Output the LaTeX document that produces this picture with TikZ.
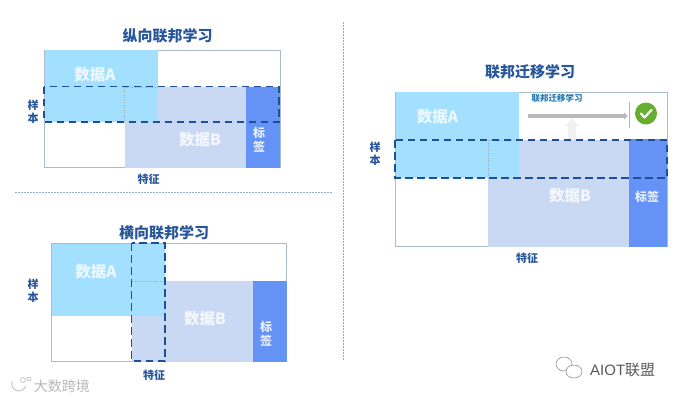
\documentclass[tikz,border=0pt]{standalone}
\usepackage{fontspec}
\usetikzlibrary{arrows.meta}
\setmainfont{Liberation Sans}
\newfontfamily\cjk{Noto Sans CJK SC}
\begin{document}
\begin{tikzpicture}[x=1pt,y=-1pt,
  outer/.style={draw=frameC,line width=1pt,fill=white},
  dataA/.style={fill=aC},
  dataB/.style={fill=bC},
  labelbox/.style={fill=lC},
  dash box/.style={draw=dashC,line width=1.9pt,dash pattern=on 7.5pt off 4.5pt},
  thin dot/.style={draw=gray!70,line width=.5pt,dotted},
  divider/.style={draw=divC,line width=.7pt,dash pattern=on 1.5pt off 1.5pt},
  title/.style={font=\cjk\bfseries\fontsize{15}{17}\selectfont,text=titleC,inner sep=0pt},
  axis/.style={font=\cjk\bfseries\fontsize{11}{13}\selectfont,text=titleC,inner sep=0pt,align=center},
  big/.style={font=\cjk\bfseries\fontsize{15.5}{17}\selectfont,text=white,text opacity=.8,inner sep=0pt},
  tag/.style={font=\cjk\bfseries\fontsize{12}{14.5}\selectfont,text=white,text opacity=.85,inner sep=0pt,align=center}]
\definecolor{frameC}{HTML}{A9BBCF}
\definecolor{aC}{HTML}{A3DFFE}
\definecolor{bC}{HTML}{C9D8F3}
\definecolor{lC}{HTML}{6492F5}
\definecolor{dashC}{HTML}{1F4E9B}
\definecolor{titleC}{HTML}{27569B}
\definecolor{divC}{HTML}{8FB0CC}
\definecolor{okC}{HTML}{66AE2E}
\useasboundingbox (0,0) rectangle (683,400);
\fill[white] (0,0) rectangle (683,400);
% dividers
\coordinate (hl) at (15,192); \coordinate (hr) at (332,192);
\coordinate (vt) at (343.5,22); \coordinate (vb) at (343.5,361);
\draw[divider] (hl) -- (hr);
\draw[divider] (vt) -- (vb);
% --- panel 1
\node[title] (t1) at (167.5,36) {纵向联邦学习};
\draw[outer] (44.5,50) rectangle (280,167.5);
\fill[dataB] (124.5,87) rectangle (246,167.5);
\fill[labelbox] (246,87) rectangle (280,167.5);
\fill[dataA] (44.5,50) rectangle (157.5,122);
\draw[thin dot] (124.5,87) -- (124.5,122);
\draw[thin dot] (124.5,87) -- (157.5,87);
\draw[dash box] (44,86.5) rectangle (279,122);
\node[big] (a1) at (95,74.5) {数据A};
\node[big] (b1) at (200,139.5) {数据B};
\node[tag] (c1) at (259,140) {标\\签};
\node[axis] (s1) at (33,112) {样\\本};
\node[axis] (f1) at (148.5,179) {特征};
% --- panel 2
\node[title] (t2) at (164,232.5) {横向联邦学习};
\draw[outer] (51.5,243.5) rectangle (286.5,361.5);
\fill[dataB] (132,281) rectangle (253,361.5);
\fill[labelbox] (253,281) rectangle (286.5,361.5);
\fill[dataA] (51.5,243.5) rectangle (165,316);
\draw[thin dot] (132,281) -- (165,281);
\draw[dash box] (131.5,243) rectangle (165,361);
\node[big] (a2) at (96,271.5) {数据A};
\node[big] (b2) at (205,319) {数据B};
\node[tag] (c2) at (266,334) {标\\签};
\node[axis] (s2) at (33,290.5) {样\\本};
\node[axis] (f2) at (154,375.5) {特征};
% --- panel 3
\node[title] (t3) at (530,71.5) {联邦迁移学习};
\draw[outer] (395.5,92) rectangle (667,246.5);
\fill[dataB] (488,140) rectangle (629,246.5);
\fill[labelbox] (629,139) rectangle (667,246.5);
\fill[dataA] (395.5,92) rectangle (519,177.5);
\draw[thin dot] (488.5,140) -- (488.5,177.5);
\draw[thin dot] (488.5,140) -- (519,140);
% transfer arrow
\coordinate (us) at (572,140); \coordinate (ue) at (572,118);
\draw[-{Latex[length=8pt,width=16pt]},line width=8pt,draw=black!6] (us) -- (ue);
\coordinate (ts) at (528,116); \coordinate (te) at (628,116);
\draw[-{Latex[length=4pt,width=8pt]},line width=3.5pt,draw=black!27] (ts) -- (te);
\coordinate (bt) at (629,102); \coordinate (bb) at (629,128);
\draw[black!30,line width=.8pt] (bt) -- (bb);
\node[circle,fill=okC,minimum size=22pt,inner sep=0pt] (ok) at (646,113.5) {};
\draw[white,line width=2.2pt,line cap=round,line join=round] ([shift={(-5,0)}]ok.center) -- ([shift={(-1.5,4)}]ok.center) -- ([shift={(5.5,-3.5)}]ok.center);
\node[font=\cjk\bfseries\fontsize{8.5}{10}\selectfont,text=titleC!80!cyan,inner sep=0pt] (tt) at (557,98.5) {联邦迁移学习};
\draw[dash box] (395,140) rectangle (667,178);
\node[big] (a3) at (437.5,117) {数据A};
\node[big] (b3) at (570,196) {数据B};
\node[font=\cjk\bfseries\fontsize{12}{14}\selectfont,text=white,text opacity=.85,inner sep=0pt] (c3) at (647,197) {标签};
\node[axis] (s3) at (375,154) {样\\本};
\node[axis] (f3) at (527,258) {特征};
% --- watermarks
\node[font=\cjk\fontsize{14}{16}\selectfont,text=black!28,inner sep=0pt] (wm) at (62,386) {大数跨境};
\draw[black!22,line width=1pt] (12,381) .. controls (10,392) and (22,394) .. (26,386);
\draw[black!22,line width=.8pt] (23,380) circle (2.5pt) (29,379) circle (2pt);
\node[font=\fontsize{15}{17}\selectfont,text=black!65,inner sep=0pt,anchor=west] (aiot) at (590,369.5) {AIOT\cjk 联盟};
\draw[black!50,line width=.5pt] (564,364) ellipse (8pt and 7pt);
\draw[black!50,line width=.5pt,fill=white] (574,371.5) ellipse (8pt and 6.5pt);
\end{tikzpicture}
\end{document}
